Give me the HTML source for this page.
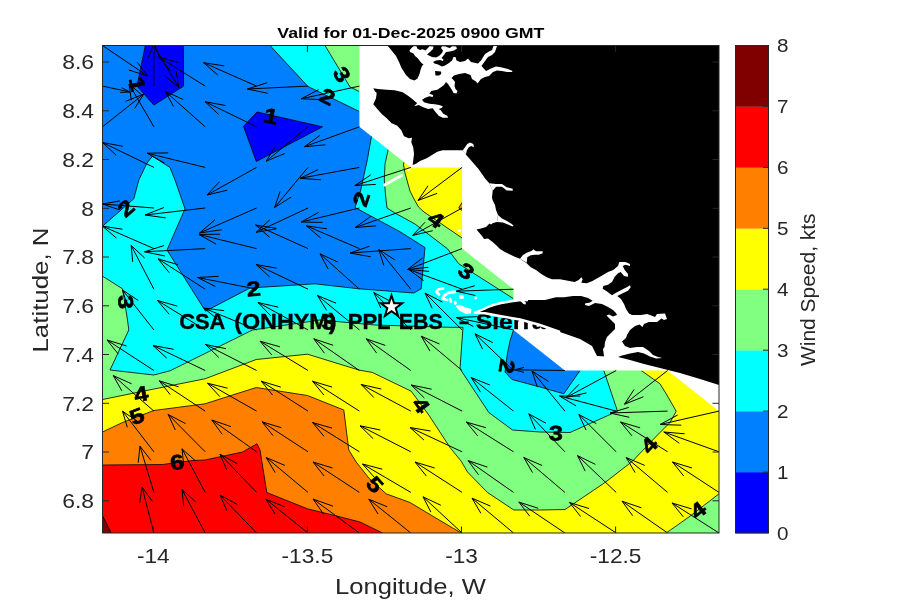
<!DOCTYPE html>
<html><head><meta charset="utf-8"><title>Wind</title>
<style>html,body{margin:0;padding:0;background:#fff}svg{display:block;will-change:transform}</style></head>
<body>
<svg width="900" height="600" viewBox="0 0 900 600">
<defs>
<clipPath id="cd"><polygon points="102.5,45.5 359.4,45.5 359.4,126.8 410.8,167.4 462.1,167.4 462.1,248.6 513.5,289.2 513.5,329.9 564.9,370.5 667.6,370.5 719.0,411.1 719.0,533.0 102.5,533.0"/></clipPath>
<clipPath id="ca"><rect x="102.5" y="45.5" width="616.5" height="487.5"/></clipPath>
</defs>
<rect width="900" height="600" fill="#fff"/>
<g clip-path="url(#ca)">
<polygon points="102.5,45.5 719.0,45.5 719.0,533.0 102.5,533.0" fill="#ff0000"/>
<polygon points="102.5,515.5 111.2,533.0 102.5,533.0" fill="#800000"/>
<polygon points="102.5,465.0 162.5,464.5 192.5,460.5 205.0,460.0 242.5,452.0 257.0,443.8 260.0,450.0 266.8,492.5 307.5,508.8 337.5,516.2 360.0,522.0 382.5,533.0 719.0,533.0 719.0,45.5 102.5,45.5" fill="#ff8000"/>
<polygon points="102.5,432.0 122.5,422.5 153.8,410.5 205.0,403.8 256.2,387.5 307.5,395.5 343.8,410.0 348.8,450.0 356.2,462.0 368.8,478.0 386.2,493.8 410.0,502.5 435.0,517.5 461.2,533.0 719.0,533.0 719.0,45.5 102.5,45.5" fill="#ffff00"/>
<polygon points="102.5,399.5 153.9,389.0 205.0,378.8 256.2,359.5 307.5,354.2 358.8,370.0 372.5,372.5 411.2,391.2 428.8,415.0 450.0,447.5 461.2,461.2 467.5,472.0 487.5,492.5 513.8,510.0 540.0,510.0 565.0,509.5 605.0,482.5 632.5,461.2 657.5,435.0 670.0,422.5 676.2,411.2 666.2,393.8 660.0,383.8 641.2,370.5 641.0,45.5 102.5,45.5" fill="#80ff80"/>
<polygon points="666.2,533.0 690.0,516.2 719.0,493.8 719.0,533.0" fill="#80ff80"/>
<polygon points="102.5,276.2 122.5,288.8 127.5,320.0 128.8,330.0 110.0,370.0 153.8,375.0 170.0,370.8 252.5,330.0 320.0,320.0 375.0,325.0 450.0,327.3 463.0,327.3 460.0,368.8 488.8,412.5 512.5,430.0 540.0,432.0 570.0,432.5 617.5,411.2 603.8,370.5 603.8,45.5 102.5,45.5" fill="#00ffff"/>
<polygon points="389.0,146.0 388.0,150.4 385.0,164.0 384.3,180.0 385.5,195.0 387.0,208.0 395.0,213.0 415.0,224.0 447.5,248.8 458.8,263.8 513.5,298.7 520.0,298.7 520.0,140.0" fill="#80ff80"/>
<polygon points="325.0,45.5 350.0,87.0 359.4,91.6 359.4,45.5" fill="#80ff80"/>
<polygon points="270.0,45.5 308.0,86.5 359.4,111.5 385.0,118.0 373.0,131.0 371.3,137.3 367.3,160.0 362.0,184.0 360.8,190.0 355.0,207.5 400.0,231.7 425.0,247.5 421.2,288.8 413.8,293.0 358.8,288.8 315.0,283.8 250.0,288.0 205.5,311.2 167.0,250.0 185.0,208.8 175.0,180.0 170.0,167.5 152.5,156.2 147.0,163.0 138.8,180.0 133.8,198.8 102.5,226.2 102.5,45.5" fill="#0080ff"/>
<polygon points="515.0,322.0 513.5,329.9 510.0,341.0 507.5,353.0 506.5,360.0 505.0,372.0 512.0,379.5 540.0,387.0 563.8,393.8 580.0,370.5 582.0,360.0" fill="#0080ff"/>
<polygon points="145.3,45.5 183.3,45.5 183.6,86.1 153.9,105.1 137.0,86.1" fill="#0000ff"/>
<polygon points="243.5,126.3 257.0,112.0 322.5,126.8 256.3,161.5" fill="#0000ff"/>
<polygon points="404.7,158.0 403.5,165.0 405.0,173.0 407.5,182.0 410.0,191.0 414.0,199.0 418.5,207.0 424.0,212.0 462.1,238.0 470.0,238.0 470.0,150.0" fill="#ffff00"/>
<polygon points="458.7,208.0 462.1,202.3 462.1,210.5" fill="#ff8000"/>
<polyline points="102.5,465.0 162.5,464.5 192.5,460.5 205.0,460.0 242.5,452.0 257.0,443.8 260.0,450.0 266.8,492.5 307.5,508.8 337.5,516.2 360.0,522.0 382.5,533.0" fill="none" stroke="#000" stroke-width="0.8"/>
<polyline points="102.5,432.0 122.5,422.5 153.8,410.5 205.0,403.8 256.2,387.5 307.5,395.5 343.8,410.0 348.8,450.0 356.2,462.0 368.8,478.0 386.2,493.8 410.0,502.5 435.0,517.5 461.2,533.0" fill="none" stroke="#000" stroke-width="0.8"/>
<polyline points="102.5,399.5 153.9,389.0 205.0,378.8 256.2,359.5 307.5,354.2 358.8,370.0 372.5,372.5 411.2,391.2 428.8,415.0 450.0,447.5 461.2,461.2 467.5,472.0 487.5,492.5 513.8,510.0 540.0,510.0 565.0,509.5 605.0,482.5 632.5,461.2 657.5,435.0 670.0,422.5 676.2,411.2 666.2,393.8 660.0,383.8 641.2,370.5" fill="none" stroke="#000" stroke-width="0.8"/>
<polyline points="666.2,533.0 690.0,516.2 719.0,493.8" fill="none" stroke="#000" stroke-width="0.8"/>
<polyline points="102.5,276.2 122.5,288.8 127.5,320.0 128.8,330.0 110.0,370.0 153.8,375.0 170.0,370.8 252.5,330.0 320.0,320.0 375.0,325.0 450.0,327.3 463.0,327.3 460.0,368.8 488.8,412.5 512.5,430.0 540.0,432.0 570.0,432.5 617.5,411.2 603.8,370.5" fill="none" stroke="#000" stroke-width="0.8"/>
<polyline points="389.0,146.0 388.0,150.4 385.0,164.0 384.3,180.0 385.5,195.0 387.0,208.0 395.0,213.0 415.0,224.0 447.5,248.8 458.8,263.8 513.5,298.7" fill="none" stroke="#000" stroke-width="0.8"/>
<polyline points="325.0,45.5 350.0,87.0 359.4,91.6" fill="none" stroke="#000" stroke-width="0.8"/>
<polyline points="270.0,45.5 308.0,86.5 359.4,111.5" fill="none" stroke="#000" stroke-width="0.8"/>
<polyline points="373.0,131.0 371.3,137.3 367.3,160.0 362.0,184.0 360.8,190.0 355.0,207.5 400.0,231.7 425.0,247.5 421.2,288.8 413.8,293.0 358.8,288.8 315.0,283.8 250.0,288.0 205.5,311.2 167.0,250.0 185.0,208.8 175.0,180.0 170.0,167.5 152.5,156.2 147.0,163.0 138.8,180.0 133.8,198.8 102.5,226.2" fill="none" stroke="#000" stroke-width="0.8"/>
<polyline points="513.5,329.9 510.0,341.0 507.5,353.0 506.5,360.0 505.0,372.0 512.0,379.5 540.0,387.0 563.8,393.8 580.0,370.5" fill="none" stroke="#000" stroke-width="0.8"/>
<polyline points="145.3,45.5 183.3,45.5 183.6,86.1 153.9,105.1 137.0,86.1 145.3,45.5" fill="none" stroke="#000" stroke-width="0.8"/>
<polyline points="243.5,126.3 257.0,112.0 322.5,126.8 256.3,161.5 243.5,126.3" fill="none" stroke="#000" stroke-width="0.8"/>
<polyline points="404.7,158.0 403.5,165.0 405.0,173.0 407.5,182.0 410.0,191.0 414.0,199.0 418.5,207.0 424.0,212.0 462.1,238.0" fill="none" stroke="#000" stroke-width="0.8"/>
<polyline points="458.7,208.0 462.1,202.3" fill="none" stroke="#000" stroke-width="0.8"/>
<polyline points="458.7,208.0 462.1,210.5" fill="none" stroke="#000" stroke-width="0.8"/>
<polyline points="102.5,515.5 111.2,533.0" fill="none" stroke="#000" stroke-width="0.8"/>
<polygon points="359.4,40.5 359.4,126.8 410.8,167.4 462.1,167.4 462.1,248.6 513.5,289.2 513.5,329.9 564.9,370.5 667.6,370.5 770.4,451.8 770.4,40.5" fill="#fff"/>
</g>
<g clip-path="url(#ca)">
<text x="179.2" y="328.6" font-family="Liberation Sans, sans-serif" font-weight="bold" font-size="21.6" textLength="46.1" lengthAdjust="spacingAndGlyphs" fill="#000" stroke="#000" stroke-width="0.35">CSA</text>
<text x="234.2" y="328.6" font-family="Liberation Sans, sans-serif" font-weight="bold" font-size="21.6" textLength="102.4" lengthAdjust="spacingAndGlyphs" fill="#000" stroke="#000" stroke-width="0.35">(ONHYM)</text>
<text x="347.7" y="328.6" font-family="Liberation Sans, sans-serif" font-weight="bold" font-size="21.6" textLength="42.9" lengthAdjust="spacingAndGlyphs" fill="#000" stroke="#000" stroke-width="0.35">PPL</text>
<text x="398.8" y="328.6" font-family="Liberation Sans, sans-serif" font-weight="bold" font-size="21.6" textLength="44" lengthAdjust="spacingAndGlyphs" fill="#000" stroke="#000" stroke-width="0.35">EBS</text>
<text x="459" y="328.6" font-family="Liberation Sans, sans-serif" font-weight="bold" font-size="21.6" textLength="10" lengthAdjust="spacingAndGlyphs" fill="#000" stroke="#000" stroke-width="0.35">–</text>
<text x="475.8" y="328.6" font-family="Liberation Sans, sans-serif" font-weight="bold" font-size="21.6" textLength="70" lengthAdjust="spacingAndGlyphs" fill="#000" stroke="#000" stroke-width="0.35">Sierra</text>
<text x="552.6" y="328.6" font-family="Liberation Sans, sans-serif" font-weight="bold" font-size="21.6" textLength="69.5" lengthAdjust="spacingAndGlyphs" fill="#000" stroke="#000" stroke-width="0.35">Leone</text>
</g>
<g clip-path="url(#ca)">
<polygon points="387.5,45.5 719.0,45.5 719.0,385.0 700.0,379.0 680.0,373.0 660.0,368.0 644.0,364.0 630.0,360.0 618.0,357.0 597.0,356.0 592.0,346.0 580.0,339.0 560.0,332.0 540.0,325.0 520.0,319.5 499.7,316.0 485.0,313.3 475.0,312.7 484.0,309.0 489.0,306.5 495.0,304.5 501.0,303.0 507.0,302.0 513.0,301.0 519.0,300.3 528.0,300.0 545.0,300.0 546.7,277.3 541.3,274.0 536.0,270.0 530.7,267.3 526.7,263.3 520.0,258.7 514.7,256.7 509.0,254.0 504.0,251.5 500.0,249.0 496.0,245.0 492.0,241.5 488.0,238.5 484.0,239.0 482.0,236.0 479.0,232.5 476.5,229.5 481.0,228.5 486.0,227.0 489.5,223.5 491.0,224.5 493.0,223.0 497.0,222.0 498.0,215.0 496.0,210.0 495.0,205.0 492.5,200.0 492.0,197.3 492.7,190.7 489.3,183.3 485.3,178.7 478.7,169.3 470.7,160.0 466.0,154.7 462.7,150.3 453.3,150.3 442.7,150.3 437.3,151.7 432.0,155.0 426.7,158.3 420.0,161.0 416.0,163.7 412.7,165.0 413.3,159.7 414.0,154.3 413.3,147.7 411.3,142.3 412.0,137.7 408.7,138.3 404.0,136.3 401.3,130.3 397.3,125.7 391.3,123.0 386.7,118.3 382.0,114.3 377.3,109.0 373.3,104.3 376.0,98.3 376.7,93.0 374.7,91.0 373.3,88.3 378.0,89.0 386.7,89.7 394.7,90.3 402.7,92.3 408.0,95.7 413.3,99.7 417.3,103.0 414.5,80.5 410.0,79.0 406.0,75.0 401.5,68.0 399.0,62.0 396.0,56.0 392.0,51.0" fill="#000"/>
<polygon points="409.0,94.0 413.3,99.7 417.3,103.0 415.3,105.0 414.0,106.3 418.7,105.0 422.7,107.0 428.0,109.0 432.7,108.3 435.3,111.7 438.7,115.7 442.7,117.7 448.0,117.7 447.3,115.7 443.3,113.7 440.7,110.3 438.7,109.0 442.0,107.7 442.7,106.3 439.3,105.0 434.7,104.3 429.3,103.7 424.0,102.3 422.0,99.7 425.3,97.7 429.3,96.3 432.7,97.0 433.3,95.0 429.3,93.7 431.3,91.0 437.3,89.7 441.3,87.0 444.0,85.0 446.0,82.0 448.0,84.0 450.0,87.0 452.0,90.0 453.5,93.0 456.5,93.5 457.5,91.0 455.5,89.0 454.5,86.0 455.0,82.0 453.5,80.0 451.5,78.0 454.0,75.5 459.0,74.0 465.0,73.0 470.5,75.0 472.0,79.0 476.0,81.5 477.5,83.5 481.0,79.0 485.0,77.0 489.0,76.0 493.0,72.0 497.0,70.5 502.0,71.0 507.0,72.0 512.0,72.0 512.5,71.0 508.0,69.0 502.0,67.5 496.0,66.5 491.0,68.5 486.0,71.0 481.5,66.0 485.0,61.0 488.0,57.0 492.0,55.0 495.0,52.0 497.0,46.0 493.5,46.0 492.0,50.0 489.0,51.5 485.0,54.0 481.0,60.5 478.0,63.5 471.0,62.0 468.0,58.5 465.0,61.0 460.0,62.0 456.5,60.5 455.5,57.0 453.5,57.0 452.0,60.5 449.0,63.0 445.0,65.5 442.0,66.5 438.0,64.5 434.5,63.5 433.0,62.0 436.0,60.5 440.0,60.0 443.0,61.0 443.5,59.5 441.5,58.0 444.0,55.0 446.0,52.0 450.0,51.5 454.0,50.5 457.0,48.5 456.0,46.5 452.0,46.2 450.0,48.0 448.0,47.5 446.0,46.5 442.0,46.2 441.0,48.0 443.0,50.5 442.0,53.0 439.0,56.0 436.0,57.5 432.0,57.0 427.0,54.5 430.0,52.0 433.0,49.0 433.5,46.5 429.5,46.2 428.0,48.0 425.5,50.5 422.5,49.2 420.0,50.0 417.2,48.5 416.5,46.2 413.5,46.2 411.5,48.0 409.5,50.5 410.0,52.0 413.5,53.5 415.0,56.0 417.5,58.0 419.5,60.5 421.5,63.0 423.5,64.5 422.0,66.0 420.5,70.0 419.5,74.0 417.5,78.5 414.5,80.5 409.0,85.0" fill="#fff"/>
<polygon points="435.0,71.0 441.0,71.5 441.2,74.0 439.0,75.5 435.5,75.5" fill="#000"/>
<polygon points="462.7,150.5 467.3,144.0 470.0,142.4 473.3,144.0 474.0,147.3 471.3,146.0 468.7,147.3 466.7,150.7 466.0,154.7" fill="#fff"/>
<polygon points="489.3,183.3 496.0,184.0 502.0,184.0 506.7,187.3 512.7,188.7 512.7,190.7 506.7,190.4 502.0,186.7 496.0,186.7 492.7,190.7" fill="#fff"/>
<polygon points="498.0,215.0 502.0,218.5 507.0,221.0 511.0,223.5 513.5,225.5 512.5,226.5 508.0,224.5 503.0,222.5 497.0,222.0" fill="#fff"/>
<polygon points="520.0,258.7 522.7,255.3 526.7,252.7 532.0,250.7 533.3,249.3 536.0,251.3 542.7,251.3 542.7,253.3 538.7,254.7 534.7,254.7 530.7,255.3 527.3,257.3 526.7,262.7" fill="#fff"/>
<polygon points="520.0,300.5 522.7,303.3 525.3,304.7 526.0,302.7 523.5,300.3" fill="#fff"/>
<polygon points="544.0,299.0 544.0,276.5 546.7,277.3 552.0,279.3 560.0,279.3 568.0,280.7 574.7,282.0 578.7,280.0 581.3,277.3 582.7,279.3 581.3,282.7 586.7,283.3 592.0,281.3 600.0,276.7 608.0,272.0 613.3,270.0 618.0,266.0 619.3,262.0 625.3,262.0 630.0,264.0 630.0,266.0 625.3,264.7 622.7,266.0 624.7,270.0 628.0,274.0 628.0,276.7 624.0,276.0 620.7,272.0 618.0,273.3 614.7,276.7 612.0,282.0 608.0,284.7 603.3,286.0 602.7,288.7 606.7,291.3 612.0,295.3 616.0,292.7 621.3,290.0 626.7,287.3 630.0,285.3 630.7,287.3 628.0,290.7 622.7,293.3 617.3,296.0 621.0,299.0 624.0,304.0 626.0,309.0 629.0,313.5 632.0,315.0 641.0,315.0 647.0,314.0 650.0,315.0 655.0,317.0 657.0,314.0 665.0,313.5 667.0,319.0 664.0,320.0 661.5,318.5 657.0,322.0 649.0,322.0 644.0,324.0 642.5,327.0 639.5,324.5 635.0,326.0 630.0,330.0 627.0,335.0 626.0,338.0 622.0,341.5 625.0,346.0 630.0,348.0 637.0,347.0 643.0,347.0 649.0,351.0 653.0,355.0 658.0,357.0 662.5,358.0 656.0,358.5 650.0,356.5 644.0,353.5 638.0,352.0 630.0,353.5 622.0,355.5 618.0,357.0 618.0,360.0 604.0,360.0 604.0,356.0 603.0,349.0 604.5,347.0 605.0,342.0 607.0,337.0 611.0,333.0 615.0,329.0 615.0,324.0 611.0,320.0 606.5,315.5 609.0,314.5 613.0,316.5 617.0,315.0 616.0,313.0 613.0,310.0 608.0,307.0 602.0,304.0 595.0,303.0 589.0,306.0 585.0,305.0 585.3,303.3 589.3,302.7 592.7,300.7 588.0,298.0 581.0,296.0 573.0,296.0 564.0,297.3 556.0,297.3 545.0,300.0" fill="#fff"/>
<polyline points="528.0,300.0 519.0,300.3 513.0,301.0 507.0,302.0 501.0,303.0 495.0,304.5 489.0,306.5 484.0,309.0 475.0,312.7 485.0,313.3 499.7,316.0 520.0,319.5 540.0,325.0 560.0,332.0" fill="none" stroke="#fff" stroke-width="2.4" stroke-linejoin="round"/>
<path d="M384.5,185L401.5,175.5" stroke="#fff" stroke-width="3" stroke-linecap="round" fill="none"/>
<g fill="none" stroke="#fff" stroke-width="2.8" stroke-linecap="round" stroke-linejoin="round">
<path d="M443,288.5L438,289.5L436.5,292L439,294.5"/>
<path d="M455,292L449,292.5L444.5,295.5L442.5,298.5L447,300"/>
<path d="M450,299l1,2.5"/>
<path d="M455,302l0.5,1.5"/>
</g>
<g fill="#fff">
<ellipse cx="461.5" cy="297" rx="2.6" ry="2.2"/>
<circle cx="475.7" cy="298" r="1.4"/>
<circle cx="459.3" cy="230.5" r="1.6"/>
<circle cx="408.5" cy="169.3" r="1.5"/>
<path d="M455.5,306 L460,304.8 L466,307.5 L471.5,309 L471,313.5 L466,314 L459,310.5 Z"/>
</g>
<path d="M102.5,45.5L148.0,76.2M137.2,62.2L148.0,76.2L128.8,70.0M153.9,45.5L178.7,87.5M176.3,71.5L178.7,87.5L164.7,75.8M102.5,86.1L130.0,92.0M121.7,87.7L130.0,92.0L120.1,92.4M153.9,86.1L153.9,44.0M148.1,57.9L153.9,44.0L159.7,57.9M205.2,86.1L158.8,57.0M170.1,70.6L158.8,57.0L178.1,62.6M256.6,86.1L203.5,62.7M217.8,75.0L203.5,62.7L224.3,65.9M308.0,86.1L247.3,89.0M267.7,93.3L247.3,89.0L266.9,82.8M359.4,86.1L301.2,98.8M322.1,99.6L301.2,98.8L318.7,89.6M102.5,126.8L143.8,94.0M125.7,101.3L143.8,94.0L134.7,108.4M153.9,126.8L129.0,84.0M131.3,100.2L129.0,84.0L143.1,96.0M205.2,126.8L165.2,91.3M173.5,106.4L165.2,91.3L183.3,99.5M256.6,126.8L205.0,101.7M218.6,114.4L205.0,101.7L225.5,105.5M308.0,126.8L266.2,161.2M284.8,153.5L266.2,161.2L275.3,146.3M359.4,126.8L304.5,146.7M325.4,144.8L304.5,146.7L319.9,135.4M153.9,167.4L102.5,142.5M116.0,155.1L102.5,142.5L122.9,146.3M205.2,167.4L147.0,153.2M164.3,162.9L147.0,153.2L168.2,152.9M256.6,167.4L207.0,195.0M227.2,190.2L207.0,195.0L219.6,181.6M308.0,167.4L274.6,207.5M291.1,197.1L274.6,207.5L280.1,191.4M359.4,167.4L300.0,178.3M321.1,179.8L300.0,178.3L318.1,169.6M410.8,167.4L354.8,185.6M375.8,184.4L354.8,185.6L370.8,174.8M462.1,167.4L418.0,200.5M437.1,193.4L418.0,200.5L428.0,185.8M153.9,208.0L102.5,204.0M118.9,209.7L102.5,204.0L120.0,200.9M205.2,208.0L145.0,215.0M165.8,217.9L145.0,215.0L163.9,207.5M256.6,208.0L199.5,233.0M221.8,229.7L199.5,233.0L214.9,219.8M308.0,208.0L256.0,232.3M276.5,228.8L256.0,232.3L269.8,219.8M359.4,208.0L301.3,222.0M322.4,222.4L301.3,222.0L318.5,212.4M410.8,208.0L355.2,227.5M376.2,225.8L355.2,227.5L370.8,216.3M462.1,208.0L412.5,235.5M432.7,230.7L412.5,235.5L425.1,222.2M153.9,248.6L102.5,226.2M116.4,238.1L102.5,226.2L122.5,229.2M205.2,248.6L144.5,251.8M165.0,256.0L144.5,251.8L164.1,245.5M256.6,248.6L199.0,234.5M216.1,244.1L199.0,234.5L220.0,234.2M308.0,248.6L255.6,225.0M269.6,237.3L255.6,225.0L276.1,228.3M359.4,248.6L306.3,225.8M320.7,237.9L306.3,225.8L327.0,228.8M410.8,248.6L350.0,253.0M370.7,256.8L350.0,253.0L369.4,246.3M462.1,248.6L407.5,269.5M428.4,267.3L407.5,269.5L422.7,257.9M153.9,289.2L131.2,245.5M132.7,261.9L131.2,245.5L144.7,258.0M205.2,289.2L158.0,258.8M169.4,272.9L158.0,258.8L177.8,264.7M256.6,289.2L197.5,277.5M215.4,286.5L197.5,277.5L218.6,276.3M308.0,289.2L256.2,264.5M269.9,277.1L256.2,264.5L276.7,268.2M359.4,289.2L320.0,253.8M328.1,268.9L320.0,253.8L337.9,262.1M410.8,289.2L378.8,249.5M383.8,265.4L378.8,249.5L394.8,259.9M462.1,289.2L408.8,269.5M423.6,280.6L408.8,269.5L429.1,271.4M513.5,289.2L456.2,291.2M475.4,295.5L456.2,291.2L474.9,285.7M153.9,329.9L122.5,290.0M127.4,305.9L122.5,290.0L138.3,300.5M205.2,329.9L157.5,300.5M169.2,314.3L157.5,300.5L177.3,306.1M256.6,329.9L203.8,308.0M218.2,319.8L203.8,308.0L224.2,310.7M308.0,329.9L258.0,302.5M270.7,315.8L258.0,302.5L278.3,307.2M359.4,329.9L317.5,295.5M326.6,310.4L317.5,295.5L336.1,303.2M410.8,329.9L373.8,292.5M380.8,308.0L373.8,292.5L391.1,301.6M462.1,329.9L425.0,293.0M432.2,308.4L425.0,293.0L442.3,302.0M513.5,329.9L456.2,317.5M473.4,326.5L456.2,317.5L476.8,316.7M153.9,370.5L107.0,340.0M118.3,354.1L107.0,340.0L126.7,346.0M205.2,370.5L153.0,345.5M166.8,358.2L153.0,345.5L173.7,349.3M256.6,370.5L205.5,344.5M218.8,357.5L205.5,344.5L226.0,348.7M308.0,370.5L260.0,341.2M271.8,355.0L260.0,341.2L279.9,346.8M359.4,370.5L313.8,338.8M324.4,353.2L313.8,338.8L333.2,345.3M410.8,370.5L366.2,338.8M376.6,353.1L366.2,338.8L385.3,345.4M462.1,370.5L421.2,336.2M430.0,351.1L421.2,336.2L439.5,344.0M513.5,370.5L475.0,333.8M482.6,349.2L475.0,333.8L492.8,342.6M564.9,370.5L514.5,369.8M524.0,372.4L514.5,369.8L524.1,367.4M616.2,370.5L566.2,397.5M586.5,392.9L566.2,397.5L579.0,384.3M667.6,370.5L624.5,404.2M643.4,396.8L624.5,404.2L634.1,389.4M153.9,411.1L113.2,375.5M121.8,390.8L113.2,375.5L131.6,383.8M205.2,411.1L159.2,380.8M170.2,394.7L159.2,380.8L178.6,386.8M256.6,411.1L207.5,383.2M219.9,396.7L207.5,383.2L227.6,388.2M308.0,411.1L261.2,381.2M272.6,395.1L261.2,381.2L280.8,387.1M359.4,411.1L312.5,381.2M323.9,395.1L312.5,381.2L332.1,387.1M410.8,411.1L361.2,384.5M373.9,397.5L361.2,384.5L381.3,389.0M462.1,411.1L411.2,385.0M424.4,398.0L411.2,385.0L431.6,389.2M513.5,411.1L471.2,377.5M480.6,392.2L471.2,377.5L489.8,385.0M564.9,411.1L532.0,371.0M537.3,387.1L532.0,371.0L548.4,381.4M616.2,411.1L559.5,396.0M576.1,405.9L559.5,396.0L580.3,396.1M667.6,411.1L610.0,413.0M629.3,417.3L610.0,413.0L628.8,407.4M719.0,411.1L660.0,424.5M681.3,425.2L660.0,424.5L677.6,415.0M153.9,451.8L122.5,411.2M127.3,427.3L122.5,411.2L138.4,421.9M205.2,451.8L168.2,414.5M175.3,430.0L168.2,414.5L185.6,423.6M256.6,451.8L211.8,420.0M222.2,434.3L211.8,420.0L230.9,426.6M308.0,451.8L262.0,421.8M273.0,435.6L262.0,421.8L281.3,427.7M359.4,451.8L312.5,422.5M323.9,436.2L312.5,422.5L332.0,428.1M410.8,451.8L360.0,425.8M373.2,438.7L360.0,425.8L380.3,430.0M462.1,451.8L410.0,427.5M423.9,440.0L410.0,427.5L430.5,431.0M513.5,451.8L466.2,422.0M477.7,435.9L466.2,422.0L485.9,427.7M564.9,451.8L528.8,413.8M535.4,429.4L528.8,413.8L545.9,423.2M616.2,451.8L578.8,414.5M586.0,430.0L578.8,414.5L596.3,423.6M667.6,451.8L620.5,422.0M632.0,435.9L620.5,422.0L640.1,427.8M719.0,451.8L663.8,432.0M679.3,443.3L663.8,432.0L684.7,433.8M153.9,492.4L140.0,446.2M138.2,462.7L140.0,446.2L150.9,460.3M205.2,492.4L182.0,448.8M183.7,465.1L182.0,448.8L195.7,461.1M256.6,492.4L220.0,454.2M226.8,470.0L220.0,454.2L237.3,463.7M308.0,492.4L266.2,457.5M275.2,472.6L266.2,457.5L284.8,465.4M359.4,492.4L313.0,462.0M324.1,476.0L313.0,462.0L332.5,468.0M410.8,492.4L362.5,464.0M374.5,477.5L362.5,464.0L382.3,469.2M462.1,492.4L415.0,462.0M426.4,476.1L415.0,462.0L434.7,468.0M513.5,492.4L468.0,460.5M478.6,474.9L468.0,460.5L487.4,467.1M564.9,492.4L523.8,457.5M532.5,472.6L523.8,457.5L542.1,465.5M616.2,492.4L577.5,455.6M585.2,471.1L577.5,455.6L595.4,464.4M667.6,492.4L626.2,457.5M635.1,472.6L626.2,457.5L644.7,465.4M719.0,492.4L672.5,462.0M683.7,476.0L672.5,462.0L692.0,468.0M153.9,533.0L142.0,487.0M139.6,503.2L142.0,487.0L152.3,501.2M205.2,533.0L182.0,489.5M183.7,505.9L182.0,489.5L195.7,501.9M256.6,533.0L220.0,495.0M226.9,510.7L220.0,495.0L237.3,504.4M308.0,533.0L265.8,499.2M275.0,514.0L265.8,499.2L284.3,506.7M359.4,533.0L313.0,499.0M323.6,514.2L313.0,499.0L333.0,506.2M410.8,533.0L368.8,499.2M378.0,514.0L368.8,499.2L387.3,506.8M462.1,533.0L423.0,496.8M430.9,512.1L423.0,496.8L440.9,505.3M513.5,533.0L472.0,498.2M480.9,513.3L472.0,498.2L490.5,506.1M564.9,533.0L518.8,502.0M529.7,516.2L518.8,502.0L538.2,508.3M616.2,533.0L569.5,502.5M580.7,516.6L569.5,502.5L589.1,508.5M667.6,533.0L622.0,501.2M632.7,515.7L622.0,501.2L641.4,507.8M719.0,533.0L672.0,503.0M683.4,516.9L672.0,503.0L691.6,508.9" fill="none" stroke="#000" stroke-width="1"/>
</g>
<polygon points="391.5,295.5 394.1,303.2 402.2,303.3 395.7,308.2 398.1,315.9 391.5,311.2 384.9,315.9 387.3,308.2 380.8,303.3 388.9,303.2" fill="#fff" stroke="#000" stroke-width="2" stroke-linejoin="miter"/>
<g transform="translate(137.5 84) rotate(78) scale(1.2 1)"><text x="0" y="7.4" font-family="Liberation Sans, sans-serif" font-weight="bold" font-size="21" text-anchor="middle" fill="#000" stroke="#000" stroke-width="0.6">1</text></g>
<g transform="translate(271 116) rotate(12) scale(1.2 1)"><text x="0" y="7.4" font-family="Liberation Sans, sans-serif" font-weight="bold" font-size="21" text-anchor="middle" fill="#000" stroke="#000" stroke-width="0.6">1</text></g>
<g transform="translate(327.5 96.5) rotate(27) scale(1.2 1)"><text x="0" y="7.4" font-family="Liberation Sans, sans-serif" font-weight="bold" font-size="21" text-anchor="middle" fill="#000" stroke="#000" stroke-width="0.6">2</text></g>
<g transform="translate(342 74.5) rotate(59) scale(1.2 1)"><text x="0" y="7.4" font-family="Liberation Sans, sans-serif" font-weight="bold" font-size="21" text-anchor="middle" fill="#000" stroke="#000" stroke-width="0.6">3</text></g>
<g transform="translate(126 208) rotate(-41) scale(1.2 1)"><text x="0" y="7.4" font-family="Liberation Sans, sans-serif" font-weight="bold" font-size="21" text-anchor="middle" fill="#000" stroke="#000" stroke-width="0.6">2</text></g>
<g transform="translate(253.5 288.5) rotate(-5) scale(1.2 1)"><text x="0" y="7.4" font-family="Liberation Sans, sans-serif" font-weight="bold" font-size="21" text-anchor="middle" fill="#000" stroke="#000" stroke-width="0.6">2</text></g>
<g transform="translate(126 302) rotate(88) scale(1.2 1)"><text x="0" y="7.4" font-family="Liberation Sans, sans-serif" font-weight="bold" font-size="21" text-anchor="middle" fill="#000" stroke="#000" stroke-width="0.6">3</text></g>
<g transform="translate(361 199) rotate(-72) scale(1.2 1)"><text x="0" y="7.4" font-family="Liberation Sans, sans-serif" font-weight="bold" font-size="21" text-anchor="middle" fill="#000" stroke="#000" stroke-width="0.6">2</text></g>
<g transform="translate(436 219.5) rotate(35) scale(1.2 1)"><text x="0" y="7.4" font-family="Liberation Sans, sans-serif" font-weight="bold" font-size="21" text-anchor="middle" fill="#000" stroke="#000" stroke-width="0.6">4</text></g>
<g transform="translate(466.3 271) rotate(36) scale(1.2 1)"><text x="0" y="7.4" font-family="Liberation Sans, sans-serif" font-weight="bold" font-size="21" text-anchor="middle" fill="#000" stroke="#000" stroke-width="0.6">3</text></g>
<g transform="translate(329 322) rotate(5) scale(1.2 1)"><text x="0" y="7.4" font-family="Liberation Sans, sans-serif" font-weight="bold" font-size="21" text-anchor="middle" fill="#000" stroke="#000" stroke-width="0.6">3</text></g>
<g transform="translate(141 394) rotate(-11) scale(1.2 1)"><text x="0" y="7.4" font-family="Liberation Sans, sans-serif" font-weight="bold" font-size="21" text-anchor="middle" fill="#000" stroke="#000" stroke-width="0.6">4</text></g>
<g transform="translate(137 416) rotate(-21) scale(1.2 1)"><text x="0" y="7.4" font-family="Liberation Sans, sans-serif" font-weight="bold" font-size="21" text-anchor="middle" fill="#000" stroke="#000" stroke-width="0.6">5</text></g>
<g transform="translate(177 462) rotate(-7) scale(1.2 1)"><text x="0" y="7.4" font-family="Liberation Sans, sans-serif" font-weight="bold" font-size="21" text-anchor="middle" fill="#000" stroke="#000" stroke-width="0.6">6</text></g>
<g transform="translate(421 405) rotate(54) scale(1.2 1)"><text x="0" y="7.4" font-family="Liberation Sans, sans-serif" font-weight="bold" font-size="21" text-anchor="middle" fill="#000" stroke="#000" stroke-width="0.6">4</text></g>
<g transform="translate(507 366.5) rotate(100) scale(1.2 1)"><text x="0" y="7.4" font-family="Liberation Sans, sans-serif" font-weight="bold" font-size="21" text-anchor="middle" fill="#000" stroke="#000" stroke-width="0.6">2</text></g>
<g transform="translate(556 433) rotate(1) scale(1.2 1)"><text x="0" y="7.4" font-family="Liberation Sans, sans-serif" font-weight="bold" font-size="21" text-anchor="middle" fill="#000" stroke="#000" stroke-width="0.6">3</text></g>
<g transform="translate(649 445) rotate(-46) scale(1.2 1)"><text x="0" y="7.4" font-family="Liberation Sans, sans-serif" font-weight="bold" font-size="21" text-anchor="middle" fill="#000" stroke="#000" stroke-width="0.6">4</text></g>
<g transform="translate(375 484.5) rotate(48) scale(1.2 1)"><text x="0" y="7.4" font-family="Liberation Sans, sans-serif" font-weight="bold" font-size="21" text-anchor="middle" fill="#000" stroke="#000" stroke-width="0.6">5</text></g>
<g transform="translate(698 510) rotate(-38) scale(1.2 1)"><text x="0" y="7.4" font-family="Liberation Sans, sans-serif" font-weight="bold" font-size="21" text-anchor="middle" fill="#000" stroke="#000" stroke-width="0.6">4</text></g>
<rect x="102.5" y="45.5" width="616.5" height="487.5" fill="none" stroke="#262626" stroke-width="1"/>
<path d="M153.3,533.0v-6.5M153.3,45.5v6.5M307.4,533.0v-6.5M307.4,45.5v6.5M461.5,533.0v-6.5M461.5,45.5v6.5M615.6,533.0v-6.5M615.6,45.5v6.5M102.5,500.8h6.5M719.0,500.8h-6.5M102.5,452.0h6.5M719.0,452.0h-6.5M102.5,403.3h6.5M719.0,403.3h-6.5M102.5,354.5h6.5M719.0,354.5h-6.5M102.5,305.8h6.5M719.0,305.8h-6.5M102.5,257.0h6.5M719.0,257.0h-6.5M102.5,208.3h6.5M719.0,208.3h-6.5M102.5,159.5h6.5M719.0,159.5h-6.5M102.5,110.8h6.5M719.0,110.8h-6.5M102.5,62.0h6.5M719.0,62.0h-6.5" stroke="#262626" stroke-width="1" fill="none"/>
<text x="153.3" y="562.6" font-family="Liberation Sans, sans-serif" font-size="20.8" text-anchor="middle" textLength="32.7" lengthAdjust="spacingAndGlyphs" fill="#262626">-14</text>
<text x="307.4" y="562.6" font-family="Liberation Sans, sans-serif" font-size="20.8" text-anchor="middle" textLength="51.7" lengthAdjust="spacingAndGlyphs" fill="#262626">-13.5</text>
<text x="461.5" y="562.6" font-family="Liberation Sans, sans-serif" font-size="20.8" text-anchor="middle" textLength="32.7" lengthAdjust="spacingAndGlyphs" fill="#262626">-13</text>
<text x="615.6" y="562.6" font-family="Liberation Sans, sans-serif" font-size="20.8" text-anchor="middle" textLength="51.7" lengthAdjust="spacingAndGlyphs" fill="#262626">-12.5</text>
<text x="94" y="508.0" font-family="Liberation Sans, sans-serif" font-size="20.8" text-anchor="end" textLength="31.8" lengthAdjust="spacingAndGlyphs" fill="#262626">6.8</text>
<text x="94" y="459.2" font-family="Liberation Sans, sans-serif" font-size="20.8" text-anchor="end" textLength="12.7" lengthAdjust="spacingAndGlyphs" fill="#262626">7</text>
<text x="94" y="410.5" font-family="Liberation Sans, sans-serif" font-size="20.8" text-anchor="end" textLength="31.8" lengthAdjust="spacingAndGlyphs" fill="#262626">7.2</text>
<text x="94" y="361.7" font-family="Liberation Sans, sans-serif" font-size="20.8" text-anchor="end" textLength="31.8" lengthAdjust="spacingAndGlyphs" fill="#262626">7.4</text>
<text x="94" y="313.0" font-family="Liberation Sans, sans-serif" font-size="20.8" text-anchor="end" textLength="31.8" lengthAdjust="spacingAndGlyphs" fill="#262626">7.6</text>
<text x="94" y="264.2" font-family="Liberation Sans, sans-serif" font-size="20.8" text-anchor="end" textLength="31.8" lengthAdjust="spacingAndGlyphs" fill="#262626">7.8</text>
<text x="94" y="215.5" font-family="Liberation Sans, sans-serif" font-size="20.8" text-anchor="end" textLength="12.7" lengthAdjust="spacingAndGlyphs" fill="#262626">8</text>
<text x="94" y="166.7" font-family="Liberation Sans, sans-serif" font-size="20.8" text-anchor="end" textLength="31.8" lengthAdjust="spacingAndGlyphs" fill="#262626">8.2</text>
<text x="94" y="118.0" font-family="Liberation Sans, sans-serif" font-size="20.8" text-anchor="end" textLength="31.8" lengthAdjust="spacingAndGlyphs" fill="#262626">8.4</text>
<text x="94" y="69.2" font-family="Liberation Sans, sans-serif" font-size="20.8" text-anchor="end" textLength="31.8" lengthAdjust="spacingAndGlyphs" fill="#262626">8.6</text>
<text x="410.5" y="593.6" font-family="Liberation Sans, sans-serif" font-size="22.9" text-anchor="middle" textLength="151" lengthAdjust="spacingAndGlyphs" fill="#262626">Longitude, W</text>
<text x="0" y="0" font-family="Liberation Sans, sans-serif" font-size="22.9" text-anchor="middle" textLength="125" lengthAdjust="spacingAndGlyphs" fill="#262626" transform="translate(48.2 290) rotate(-90)">Latitude, N</text>
<text x="410.8" y="38" font-family="Liberation Sans, sans-serif" font-size="15.2" font-weight="bold" text-anchor="middle" textLength="267" lengthAdjust="spacingAndGlyphs" fill="#000">Valid for 01-Dec-2025 0900 GMT</text>
<rect x="735.5" y="472.06" width="33.0" height="61.24" fill="#0000ff"/>
<rect x="735.5" y="411.12" width="33.0" height="61.24" fill="#0080ff"/>
<rect x="735.5" y="350.19" width="33.0" height="61.24" fill="#00ffff"/>
<rect x="735.5" y="289.25" width="33.0" height="61.24" fill="#80ff80"/>
<rect x="735.5" y="228.31" width="33.0" height="61.24" fill="#ffff00"/>
<rect x="735.5" y="167.38" width="33.0" height="61.24" fill="#ff8000"/>
<rect x="735.5" y="106.44" width="33.0" height="61.24" fill="#ff0000"/>
<rect x="735.5" y="45.50" width="33.0" height="61.24" fill="#800000"/>
<rect x="735.5" y="45.5" width="33.0" height="487.5" fill="none" stroke="#262626" stroke-width="1"/>
<path d="M768.5,472.1h-5.5M768.5,411.1h-5.5M768.5,350.2h-5.5M768.5,289.2h-5.5M768.5,228.3h-5.5M768.5,167.4h-5.5M768.5,106.4h-5.5" stroke="#262626" stroke-width="1" fill="none"/>
<text x="776.9" y="539.6" font-family="Liberation Sans, sans-serif" font-size="18.8" textLength="11.5" lengthAdjust="spacingAndGlyphs" fill="#262626">0</text>
<text x="776.9" y="478.7" font-family="Liberation Sans, sans-serif" font-size="18.8" textLength="11.5" lengthAdjust="spacingAndGlyphs" fill="#262626">1</text>
<text x="776.9" y="417.7" font-family="Liberation Sans, sans-serif" font-size="18.8" textLength="11.5" lengthAdjust="spacingAndGlyphs" fill="#262626">2</text>
<text x="776.9" y="356.8" font-family="Liberation Sans, sans-serif" font-size="18.8" textLength="11.5" lengthAdjust="spacingAndGlyphs" fill="#262626">3</text>
<text x="776.9" y="295.9" font-family="Liberation Sans, sans-serif" font-size="18.8" textLength="11.5" lengthAdjust="spacingAndGlyphs" fill="#262626">4</text>
<text x="776.9" y="234.9" font-family="Liberation Sans, sans-serif" font-size="18.8" textLength="11.5" lengthAdjust="spacingAndGlyphs" fill="#262626">5</text>
<text x="776.9" y="174.0" font-family="Liberation Sans, sans-serif" font-size="18.8" textLength="11.5" lengthAdjust="spacingAndGlyphs" fill="#262626">6</text>
<text x="776.9" y="113.0" font-family="Liberation Sans, sans-serif" font-size="18.8" textLength="11.5" lengthAdjust="spacingAndGlyphs" fill="#262626">7</text>
<text x="776.9" y="52.1" font-family="Liberation Sans, sans-serif" font-size="18.8" textLength="11.5" lengthAdjust="spacingAndGlyphs" fill="#262626">8</text>
<text x="0" y="0" font-family="Liberation Sans, sans-serif" font-size="19.5" text-anchor="middle" textLength="152.5" lengthAdjust="spacingAndGlyphs" fill="#262626" transform="translate(815 289.7) rotate(-90)">Wind Speed, kts</text>
</svg>
</body></html>
